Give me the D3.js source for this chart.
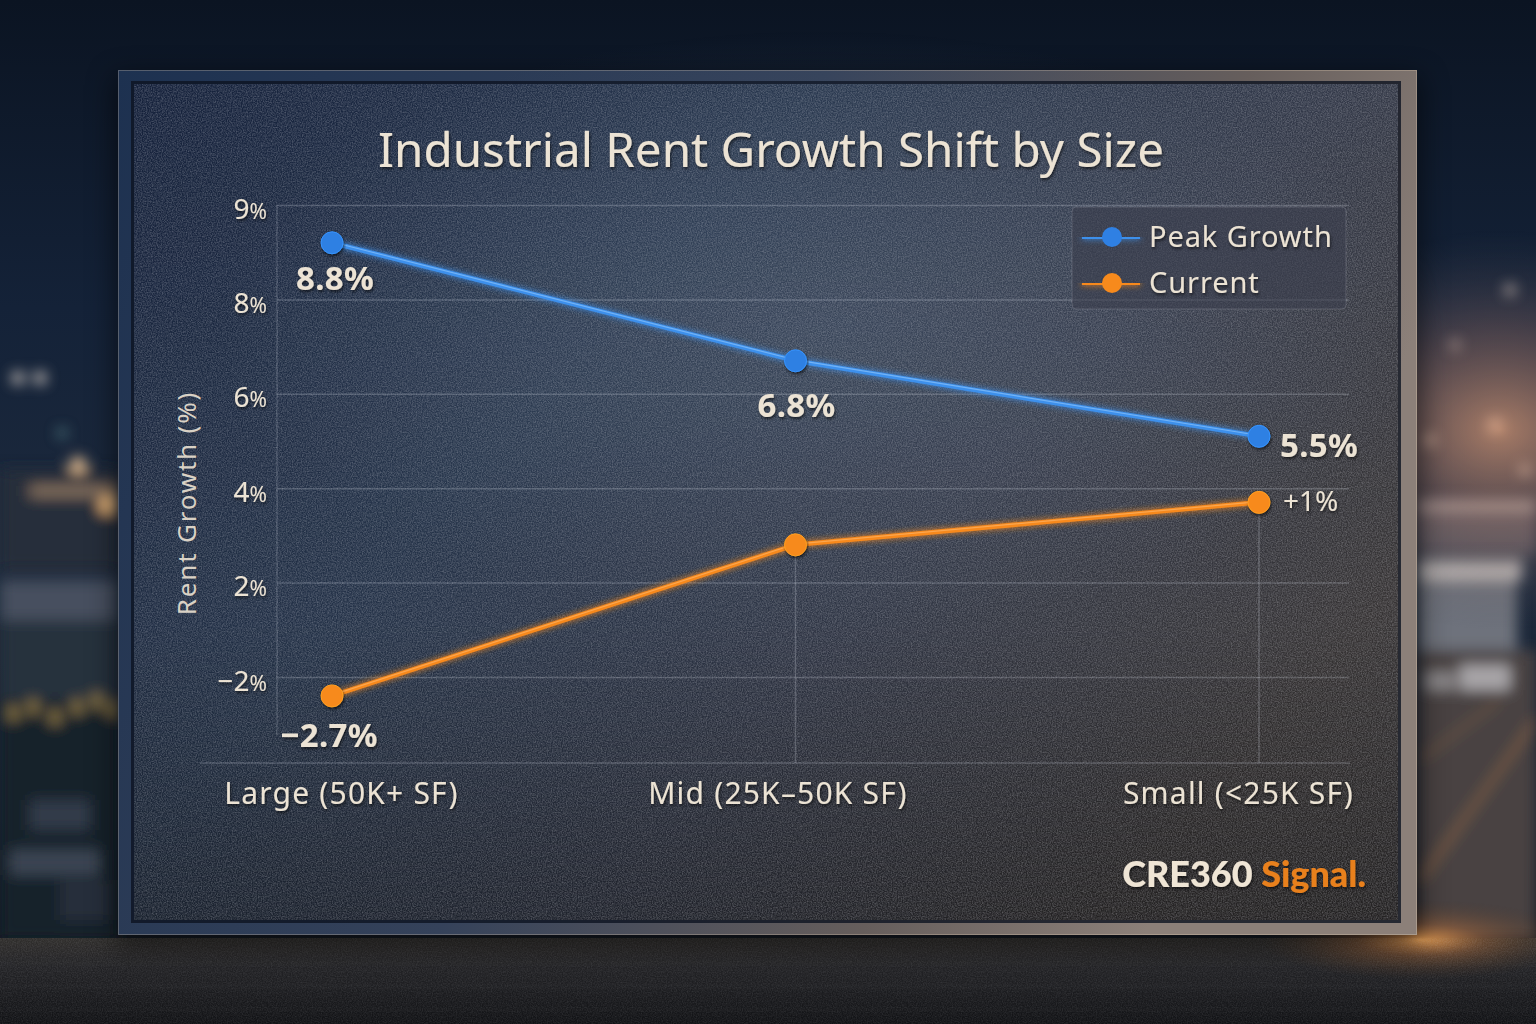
<!DOCTYPE html>
<html>
<head>
<meta charset="utf-8">
<script src="https://cdn.jsdelivr.net/npm/d3@7"></script>
<style>
  body { margin: 0; background: #0d1726; overflow: hidden; }
  svg { display: block; }
</style>
</head>
<body>
<div id="chart"></div>
<script>
// ---- data ----
const categories = ["Large (50K+ SF)", "Mid (25K–50K SF)", "Small (<25K SF)"]
const seriesNames = ["Peak Growth", "Current"]
const peakGrowth = [8.6, 6.7, 5.1]
const current = [-2.8, 2.8, 3.7]
const peakLabels = ["8.8%", "6.8%", "5.5%"]
const currentLabels = ["−2.7%", "", "+1%"]
const yTicks = [9, 8, 6, 4, 2, -2]

const width = 1536
const height = 1024

const colors = {
  blue: "#3d90ec",
  blueDot: "#2f80e3",
  orange: "#f7891e",
  orangeDot: "#f78a1c",
  text: "#ece3d4",
  grid: "rgba(225,228,238,0.22)"
}

const frame = { x: 118, y: 70, w: 1299, h: 865 }
const panel = { x: 134, y: 84, w: 1264, h: 836 }
const plot = { left: 277, right: 1349, top: 205, gridBottom: 677, axisY: 763 }

const svg = d3.select("#chart")
  .append("svg")
  .attr("width", width)
  .attr("height", height)

const defs = svg.append("defs")

function linearGrad(id, stops, x2 = 0, y2 = 1) {
  const g = defs.append("linearGradient").attr("id", id)
    .attr("x1", 0).attr("y1", 0).attr("x2", x2).attr("y2", y2)
  stops.forEach(([o, c, a]) => g.append("stop").attr("offset", o).attr("stop-color", c).attr("stop-opacity", a == null ? 1 : a))
}
function radialGrad(id, stops) {
  const g = defs.append("radialGradient").attr("id", id)
  stops.forEach(([o, c, a]) => g.append("stop").attr("offset", o).attr("stop-color", c).attr("stop-opacity", a == null ? 1 : a))
}

linearGrad("sky", [[0, "#0b1422"], [0.3, "#142238"], [0.55, "#1d2a3d"], [0.8, "#1a2230"], [1, "#101419"]])
radialGrad("warmRight", [[0, "#e7a27a", 0.7], [0.5, "#a7786a", 0.35], [1, "#4a4a55", 0]])
radialGrad("warmFloor", [[0, "#ffae5a", 0.85], [0.4, "#c9773a", 0.35], [1, "#5a3a20", 0]])
linearGrad("floor", [[0, "#302e2c"], [0.3, "#242427"], [1, "#111215"]])
linearGrad("frameGrad", [[0, "#1d3150"], [0.5, "#35425a"], [0.8, "#665e5c"], [1, "#8c8079"]], 1, 0.3)
linearGrad("panelGrad", [[0, "#14203a"], [0.4, "#26354c"], [0.7, "#333949"], [1, "#3a3738"]], 1, 0.6)
linearGrad("panelShade", [[0, "#000", 0], [0.65, "#000", 0.06], [1, "#000", 0.4]])
radialGrad("panelGlow", [[0, "#5a6a80", 0.35], [1, "#5a6a80", 0]])

const blur = defs.append("filter").attr("id", "blur").attr("x", "-20%").attr("y", "-20%").attr("width", "140%").attr("height", "140%")
blur.append("feGaussianBlur").attr("stdDeviation", 7)
const blurBig = defs.append("filter").attr("id", "blurBig").attr("x", "-50%").attr("y", "-50%").attr("width", "200%").attr("height", "200%")
blurBig.append("feGaussianBlur").attr("stdDeviation", 14)

const noise = defs.append("filter").attr("id", "noise").attr("x", 0).attr("y", 0).attr("width", "100%").attr("height", "100%")
noise.append("feTurbulence").attr("type", "fractalNoise").attr("baseFrequency", 0.8).attr("numOctaves", 2).attr("seed", 3)
noise.append("feColorMatrix").attr("type", "matrix")
  .attr("values", "0 0 0 0 0.82  0 0 0 0 0.82  0 0 0 0 0.86  0.55 0 0 0 -0.17")
noise.append("feComposite").attr("in2", "SourceGraphic").attr("operator", "in")

const glow = defs.append("filter").attr("id", "glow")
  .attr("filterUnits", "userSpaceOnUse").attr("x", 0).attr("y", 0).attr("width", width).attr("height", height)
glow.append("feGaussianBlur").attr("in", "SourceGraphic").attr("stdDeviation", 3).attr("result", "b")
const gm = glow.append("feMerge")
gm.append("feMergeNode").attr("in", "b")
gm.append("feMergeNode").attr("in", "SourceGraphic")

const shadow = defs.append("filter").attr("id", "shadow").attr("x", "-10%").attr("y", "-20%").attr("width", "120%").attr("height", "140%")
shadow.append("feDropShadow").attr("dx", 1).attr("dy", 2).attr("stdDeviation", 1.5).attr("flood-color", "#000").attr("flood-opacity", 0.6)

// ---- background scene ----
const bg = svg.append("g")
bg.append("rect").attr("width", width).attr("height", height).attr("fill", "url(#sky)")

const scene = bg.append("g").attr("filter", "url(#blur)")
// left side: blurred warehouses and lights
scene.append("rect").attr("x", 0).attr("y", 470).attr("width", 118).attr("height", 100).attr("fill", "#252d3b")
scene.append("rect").attr("x", 30).attr("y", 485).attr("width", 88).attr("height", 12).attr("fill", "#a98a6c").attr("opacity", 0.7)
scene.append("rect").attr("x", 0).attr("y", 580).attr("width", 118).attr("height", 40).attr("fill", "#46505e")
scene.append("rect").attr("x", 0).attr("y", 620).attr("width", 118).attr("height", 80).attr("fill", "#28313e")
scene.append("rect").attr("x", 0).attr("y", 700).attr("width", 118).attr("height", 240).attr("fill", "#19202c")
;[[8, 706], [28, 700], [50, 710], [72, 700], [92, 694], [108, 702]].forEach(([x, y]) =>
  scene.append("rect").attr("x", x).attr("y", y).attr("width", 10).attr("height", 14).attr("fill", "#d8b45a").attr("opacity", 0.6))
;[[30, 800, 60, 30, "#323b48"], [10, 850, 90, 25, "#3a4452"], [60, 880, 50, 40, "#262d3a"]].forEach(([x, y, w, h, c]) =>
  scene.append("rect").attr("x", x).attr("y", y).attr("width", w).attr("height", h).attr("fill", c))
;[[18, 378, 6, "#e8dcd0"], [40, 378, 6, "#e8dcd0"], [78, 465, 8, "#f3c898"], [108, 505, 9, "#f5c080"], [62, 433, 4, "#6aa0a0"]].forEach(([x, y, r, c]) =>
  scene.append("circle").attr("cx", x).attr("cy", y).attr("r", r).attr("fill", c))

// right side: warm sky, warehouses, lot
bg.append("ellipse").attr("cx", 1500).attr("cy", 430).attr("rx", 260).attr("ry", 200).attr("fill", "url(#warmRight)")
scene.append("rect").attr("x", 1417).attr("y", 500).attr("width", 119).attr("height", 55).attr("fill", "#5e5c66").attr("opacity", 0.8)
scene.append("rect").attr("x", 1417).attr("y", 500).attr("width", 119).attr("height", 10).attr("fill", "#9c9a9e")
scene.append("rect").attr("x", 1417).attr("y", 560).attr("width", 105).attr("height", 20).attr("fill", "#b8b6b6")
scene.append("rect").attr("x", 1417).attr("y", 580).attr("width", 100).attr("height", 70).attr("fill", "#6e727b")
scene.append("rect").attr("x", 1417).attr("y", 650).attr("width", 119).attr("height", 290).attr("fill", "#4a4242")
scene.append("rect").attr("x", 1460).attr("y", 665).attr("width", 50).attr("height", 25).attr("fill", "#d0d0d4").attr("opacity", 0.7)
scene.append("rect").attr("x", 1425).attr("y", 672).attr("width", 30).attr("height", 18).attr("fill", "#b4b4b8").attr("opacity", 0.6)
scene.append("line").attr("x1", 1420).attr("y1", 880).attr("x2", 1536).attr("y2", 720).attr("stroke", "#c98a4a").attr("stroke-width", 3).attr("opacity", 0.6)
scene.append("line").attr("x1", 1420).attr("y1", 760).attr("x2", 1500).attr("y2", 700).attr("stroke", "#c98a4a").attr("stroke-width", 2).attr("opacity", 0.5)
;[[1510, 290, 5], [1455, 345, 4], [1495, 425, 6], [1430, 440, 5], [1525, 470, 5]].forEach(([x, y, r]) =>
  scene.append("circle").attr("cx", x).attr("cy", y).attr("r", r).attr("fill", "#f1e0d0"))

// floor
bg.append("rect").attr("x", 0).attr("y", 938).attr("width", width).attr("height", height - 938).attr("fill", "url(#floor)")
;[962, 985, 1008].forEach(y =>
  bg.append("rect").attr("x", 0).attr("y", y).attr("width", width).attr("height", 3).attr("fill", "#4a4a50").attr("opacity", 0.3).attr("filter", "url(#blur)"))
bg.append("ellipse").attr("cx", 1420).attr("cy", 940).attr("rx", 160).attr("ry", 40).attr("fill", "url(#warmFloor)")
bg.append("rect").attr("x", 0).attr("y", 938).attr("width", width).attr("height", height - 938)
  .attr("fill", "#fff").attr("opacity", 0.35).attr("filter", "url(#noise)")

// ---- frame and panel ----
bg.append("rect").attr("x", frame.x - 4).attr("y", frame.y + 6).attr("width", frame.w + 8).attr("height", frame.h + 6)
  .attr("fill", "#000").attr("opacity", 0.5).attr("filter", "url(#blurBig)")
bg.append("rect").attr("x", frame.x).attr("y", frame.y).attr("width", frame.w).attr("height", frame.h).attr("fill", "url(#frameGrad)")
bg.append("rect").attr("x", frame.x + 0.5).attr("y", frame.y + 0.5).attr("width", frame.w - 1).attr("height", frame.h - 1)
  .attr("fill", "none").attr("stroke", "rgba(255,230,200,0.25)").attr("stroke-width", 1)
bg.append("rect").attr("x", panel.x - 3).attr("y", panel.y - 3).attr("width", panel.w + 6).attr("height", panel.h + 6).attr("fill", "#0c1320").attr("opacity", 0.8)
bg.append("rect").attr("x", panel.x).attr("y", panel.y).attr("width", panel.w).attr("height", panel.h).attr("fill", "url(#panelGrad)")
bg.append("ellipse").attr("cx", 820).attr("cy", 330).attr("rx", 600).attr("ry", 300).attr("fill", "url(#panelGlow)")
bg.append("rect").attr("x", panel.x).attr("y", panel.y).attr("width", panel.w).attr("height", panel.h).attr("fill", "url(#panelShade)")
bg.append("rect").attr("x", panel.x).attr("y", panel.y).attr("width", panel.w).attr("height", panel.h)
  .attr("fill", "#fff").attr("opacity", 0.85).attr("filter", "url(#noise)")

// ---- chart ----
const g = svg.append("g")

const yStep = (plot.gridBottom - plot.top) / (yTicks.length - 1)
const y = d3.scaleLinear()
  .domain(yTicks.slice().reverse())
  .range(yTicks.slice().reverse().map((_, i) => plot.gridBottom - i * yStep))

const x = d3.scalePoint()
  .domain(categories)
  .range([plot.left + 55, plot.right - 90])

const fmtTick = d => (d < 0 ? "−" : "") + Math.abs(d)

const yAxis = g.append("g")
  .attr("transform", `translate(${plot.left},0)`)
  .call(d3.axisLeft(y).tickValues(yTicks).tickSize(-(plot.right - plot.left)).tickPadding(10).tickFormat(fmtTick))
yAxis.select(".domain").remove()
yAxis.selectAll(".tick line").attr("stroke", colors.grid).attr("stroke-width", 1.5)
yAxis.selectAll(".tick text")
  .attr("fill", colors.text)
  .attr("font-family", "Noto Sans")
  .attr("font-size", 28)
  .attr("dy", "0.47em")
  .attr("filter", "url(#shadow)")
  .append("tspan").attr("font-size", 21).text("%")

// y axis line
g.append("line")
  .attr("x1", plot.left).attr("x2", plot.left)
  .attr("y1", plot.top).attr("y2", plot.axisY - 28)
  .attr("stroke", colors.grid).attr("stroke-width", 1.2)

// category labels sit slightly inward of their points
const catShift = [9, -18, -21]
const xAxis = g.append("g")
  .attr("transform", `translate(0,${plot.axisY})`)
  .call(d3.axisBottom(x).tickSize(0).tickPadding(20))
xAxis.select(".domain").remove()
xAxis.selectAll(".tick text")
  .attr("dx", (d, i) => catShift[i])
  .attr("fill", colors.text)
  .attr("font-family", "Noto Sans")
  .attr("font-size", 30)
  .attr("letter-spacing", 1.2)
  .attr("filter", "url(#shadow)")

g.append("line")
  .attr("x1", plot.left - 77).attr("x2", plot.right + 1)
  .attr("y1", plot.axisY).attr("y2", plot.axisY)
  .attr("stroke", colors.grid).attr("stroke-width", 1.5)

// drop lines from the current series to the baseline
g.selectAll("line.drop")
  .data(current.slice(1))
  .enter()
    .append("line")
    .attr("class", "drop")
    .attr("x1", (d, i) => x(categories[i + 1]))
    .attr("x2", (d, i) => x(categories[i + 1]))
    .attr("y1", d => y(d))
    .attr("y2", plot.axisY)
    .attr("stroke", colors.grid)
    .attr("stroke-width", 1.5)

// axis title
g.append("text")
  .attr("transform", `translate(187,${(plot.top + plot.axisY) / 2 + 19}) rotate(-90)`)
  .attr("text-anchor", "middle")
  .attr("dy", "0.35em")
  .attr("fill", "#d9d1c5")
  .attr("font-family", "Noto Sans")
  .attr("font-size", 26)
  .attr("letter-spacing", 1.8)
  .text("Rent Growth (%)")

// title
const title = g.append("text")
  .attr("x", 771).attr("y", 167)
  .attr("text-anchor", "middle")
  .attr("fill", colors.text)
  .attr("font-family", "Noto Sans")
  .attr("font-size", 48)
  .attr("filter", "url(#shadow)")
  .text("Industrial Rent Growth Shift by Size")
const tw = title.node().getComputedTextLength()
if (tw > 786) title.attr("textLength", 786).attr("lengthAdjust", "spacingAndGlyphs")

// series
const series = [
  { name: seriesNames[0], values: peakGrowth, labels: peakLabels, line: colors.blue, dot: colors.blueDot, hi: "#9fd0ff" },
  { name: seriesNames[1], values: current, labels: currentLabels, line: colors.orange, dot: colors.orangeDot, hi: "#ffc07a" }
]

const line = d3.line()
  .x((d, i) => x(categories[i]))
  .y(d => y(d))

series.forEach(s => {
  g.append("path")
    .attr("d", line(s.values))
    .attr("fill", "none")
    .attr("stroke", s.line)
    .attr("stroke-width", 4.5)
    .attr("stroke-linejoin", "round")
    .attr("filter", "url(#glow)")
  g.append("path")
    .attr("d", line(s.values))
    .attr("transform", "translate(0,-0.8)")
    .attr("fill", "none")
    .attr("stroke", s.hi)
    .attr("stroke-width", 1.2)
    .attr("stroke-opacity", 0.55)
  g.selectAll(null)
    .data(s.values)
    .enter()
      .append("circle")
      .attr("cx", (d, i) => x(categories[i]))
      .attr("cy", d => y(d))
      .attr("r", 11)
      .attr("fill", s.dot)
      .attr("stroke", d3.color(s.dot).brighter(0.4))
      .attr("stroke-width", 1)
      .attr("filter", "url(#shadow)")
})

// value labels: offsets from each point
const placements = [
  [{ dx: 3, dy: 47, anchor: "middle", bold: true }, { dx: 1, dy: 56, anchor: "middle", bold: true }, { dx: 21, dy: 21, anchor: "start", bold: true }],
  [{ dx: -3, dy: 51, anchor: "middle", bold: true }, null, { dx: 24, dy: 9, anchor: "start", bold: false }]
]

series.forEach((s, si) => {
  s.labels.forEach((lab, i) => {
    const p = placements[si][i]
    if (!lab || !p) return
    g.append("text")
      .attr("x", x(categories[i]) + p.dx)
      .attr("y", y(s.values[i]) + p.dy)
      .attr("text-anchor", p.anchor)
      .attr("fill", colors.text)
      .attr("font-family", "Noto Sans")
      .attr("font-weight", p.bold ? 700 : 400)
      .attr("font-size", p.bold ? 33 : 28)
      .attr("letter-spacing", p.bold ? 0.3 : 0)
      .attr("filter", "url(#shadow)")
      .text(lab)
  })
})

// legend
const legend = g.append("g").attr("transform", "translate(1072,207)")
legend.append("rect")
  .attr("width", 274).attr("height", 102).attr("rx", 4)
  .attr("fill", "rgba(58,62,76,0.6)")
  .attr("stroke", "rgba(230,230,240,0.18)")
legend.selectAll("g.item")
  .data(series)
  .enter()
    .append("g")
    .attr("class", "item")
    .attr("transform", (d, i) => `translate(0,${30 + i * 46})`)
    .each(function (d) {
      const item = d3.select(this)
      item.append("line").attr("x1", 10).attr("x2", 68).attr("stroke", d.line).attr("stroke-width", 4).attr("filter", "url(#glow)")
      item.append("circle").attr("cx", 40).attr("r", 10).attr("fill", d.dot)
      item.append("text")
        .attr("x", 77).attr("dy", "0.36em")
        .attr("fill", colors.text)
        .attr("font-family", "Noto Sans")
        .attr("font-size", 29)
        .attr("letter-spacing", 0.9)
        .attr("filter", "url(#shadow)")
        .text(d.name)
    })

// brand mark
const brand = g.append("text")
  .attr("x", 1366).attr("y", 887)
  .attr("text-anchor", "end")
  .attr("font-family", "Lato")
  .attr("font-weight", 900)
  .attr("font-size", 36)
  .attr("filter", "url(#shadow)")
brand.append("tspan").attr("fill", "#efe5d5").text("CRE360 ")
brand.append("tspan").attr("fill", "#e8801f").text("Signal.")
</script>
</body>
</html>
